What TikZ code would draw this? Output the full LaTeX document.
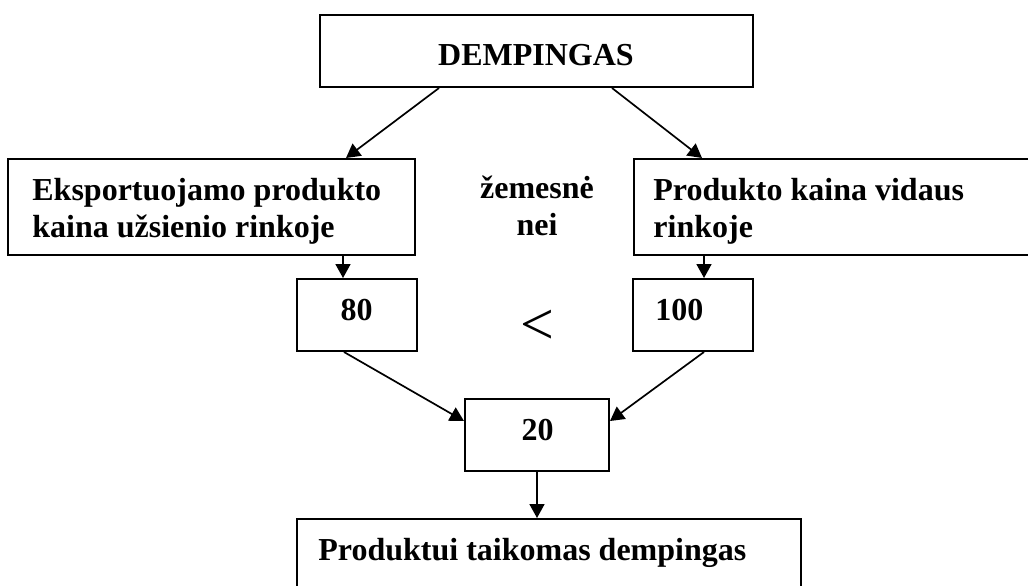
\documentclass[tikz,border=0pt]{standalone}
\usepackage{fontspec}
\setmainfont{Liberation Serif}
\usetikzlibrary{arrows.meta}
\tikzset{
  box/.style={draw, line width=1pt, inner sep=0pt, rectangle},
  txt/.style={inner sep=0pt, font=\fontsize{16pt}{18.5pt}\selectfont\bfseries},
  conn/.style={line width=0.85pt, -{Triangle[length=7pt,width=7.5pt]}}
}
\begin{document}
\begin{tikzpicture}[x=0.5pt,y=-0.5pt]
\clip (0,0) rectangle (1028,585);
\fill[white] (0,0) rectangle (1028,585);
% boxes
\node[box, minimum width=216.5pt, minimum height=36pt] (dem) at (536.5,51) {};
\node[box, minimum width=203.5pt, minimum height=48pt] (lft) at (211.5,207) {};
\node[box, minimum width=210pt, minimum height=48pt] (rgt) at (844,207) {};
\node[box, minimum width=60pt, minimum height=36pt] (b80) at (357,315) {};
\node[box, minimum width=60pt, minimum height=36pt] (b100) at (693,315) {};
\node[box, minimum width=72pt, minimum height=36pt] (b20) at (537,435) {};
\node[box, minimum width=252pt, minimum height=48pt] (bot) at (549,567) {};
% texts
\node[txt, anchor=base] (tdem) at (536,65) {DEMPINGAS};
\node[txt, anchor=base west, align=left] (tlft) at (32,237) {Eksportuojamo produkto\\kaina užsienio rinkoje};
\node[txt, anchor=base west, align=left] (trgt) at (653,237) {Produkto kaina vidaus\\rinkoje};
\node[txt, anchor=base, align=center] (tzem) at (537,235) {žemesnė\\nei};
\node[txt, anchor=base] (t80) at (356.5,320) {80};
\node[txt, anchor=base west] (t100) at (655,320) {100};
\node[inner sep=0pt, font=\fontsize{30pt}{30pt}\selectfont] (tlt) at (537,327) {<};
\node[txt, anchor=base] (t20) at (537.5,440) {20};
\node[txt, anchor=base west] (tbot) at (318,560) {Produktui taikomas dempingas};
% connectors
\draw[conn] ([xshift=60pt]dem.south west) -- ([xshift=169.5pt]lft.north west);
\draw[conn] ([xshift=146.5pt]dem.south west) -- ([xshift=34.5pt]rgt.north west);
\draw[conn] ([xshift=168pt]lft.south west) -- ([xshift=23.5pt]b80.north west);
\draw[conn] ([xshift=35.5pt]rgt.south west) -- ([xshift=36pt]b100.north west);
\draw[conn] ([xshift=24pt]b80.south west) -- ([yshift=-11.5pt]b20.north west);
\draw[conn] ([xshift=36pt]b100.south west) -- ([yshift=-11.5pt]b20.north east);
\draw[conn] (b20.south) -- (b20.south |- bot.north);
\end{tikzpicture}
\end{document}
